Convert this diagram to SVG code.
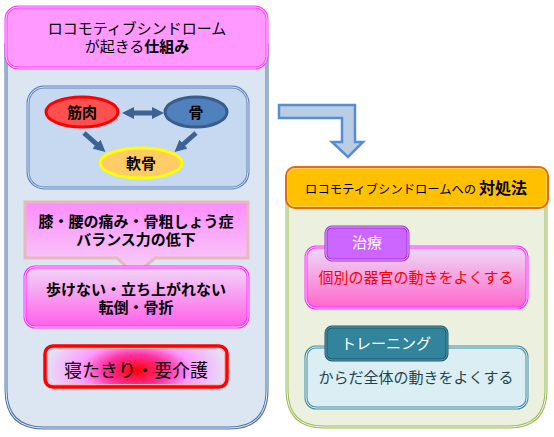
<svg xmlns="http://www.w3.org/2000/svg" width="554" height="437" viewBox="0 0 554 437">
<defs>
<style>
text{font-family:"Noto Sans CJK JP","Noto Sans",sans-serif;text-anchor:middle;fill:#000}
.t15{font-size:15px}
.b{font-weight:bold}
</style>
<linearGradient id="gPink1" x1="0" y1="0" x2="0" y2="1">
<stop offset="0" stop-color="#ff8cff"/><stop offset="1" stop-color="#f5d2f5"/>
</linearGradient>
<linearGradient id="gPink2" x1="0" y1="0" x2="0" y2="1">
<stop offset="0" stop-color="#f2d6f8"/><stop offset="1" stop-color="#ff5eea"/>
</linearGradient>
<linearGradient id="gPink3" x1="0" y1="0" x2="0" y2="1">
<stop offset="0" stop-color="#ecdcf8"/><stop offset="1" stop-color="#ff66cc"/>
</linearGradient>
<radialGradient id="gRed" cx="0.5" cy="0.6" r="0.5" gradientTransform="translate(0.5 0.6) scale(1 2.2) translate(-0.5 -0.6)">
<stop offset="0" stop-color="#ff0000"/><stop offset="0.35" stop-color="#ff30a0"/><stop offset="0.6" stop-color="#ff99ff"/><stop offset="1" stop-color="#e4e0f4"/>
</radialGradient>
<marker id="ah" viewBox="0 0 10 10" refX="5" refY="5" markerWidth="2.4" markerHeight="2.4" orient="auto-start-reverse">
<path d="M0,0 L10,5 L0,10 z" fill="#3d6394"/>
</marker>
</defs>

<!-- left panel -->
<g id="left-panel">
<path d="M6,45 H267 V390 Q267,428 229,428 H44 Q6,428 6,390 Z" fill="#dce6f2" stroke="#4f73a6" stroke-width="3"/>
<path d="M6,45 H267 V390 Q267,428 229,428 H44 Q6,428 6,390 Z" fill="none" stroke="#e8eef6" stroke-width="1"/>
</g>
<g id="left-header">
<rect x="6" y="7" width="261" height="61" rx="12" fill="#ff99ff" stroke="#ff40ff" stroke-width="3"/>
<rect x="6" y="7" width="261" height="61" rx="12" fill="none" stroke="#ffd0ff" stroke-width="1"/>
<text class="t15" x="137" y="34">ロコモティブシンドローム</text>
<text class="t15" x="137" y="52">が起きる<tspan class="b">仕組み</tspan></text>
</g>
<g id="inner-box">
<rect x="28" y="87" width="220" height="101" rx="16" fill="#c6d9f1" stroke="#5a82bd" stroke-width="3"/>
<rect x="28" y="87" width="220" height="101" rx="16" fill="none" stroke="#dce6f2" stroke-width="1"/>
</g>
<g id="connectors">
<line x1="128" y1="113" x2="158" y2="113" stroke="#3d6394" stroke-width="5" marker-start="url(#ah)" marker-end="url(#ah)"/>
<line x1="84" y1="133" x2="101" y2="148" stroke="#3d6394" stroke-width="5" marker-end="url(#ah)"/>
<line x1="196" y1="133" x2="179" y2="148" stroke="#3d6394" stroke-width="5" marker-end="url(#ah)"/>
</g>
<g id="node-muscle">
<ellipse cx="82" cy="112" rx="36" ry="15" fill="#ff5050" stroke="#ff0000" stroke-width="3"/>
<text class="t15 b" x="82" y="118">筋肉</text>
</g>
<g id="node-bone">
<ellipse cx="196" cy="112" rx="31" ry="15" fill="#4f81bd" stroke="#385d8a" stroke-width="3"/>
<text class="t15 b" x="196" y="118">骨</text>
</g>
<g id="node-cartilage">
<ellipse cx="141" cy="163" rx="41" ry="15" fill="#ffcc66" stroke="#ffff00" stroke-width="3"/>
<text class="t15 b" x="141" y="169">軟骨</text>
</g>
<g id="callout">
<path d="M25,202 H248 V258 H155 L135,275 L117,258 H25 Z" fill="url(#gPink1)" stroke="#e8b8bc" stroke-width="3"/>
<text class="t15 b" x="136" y="227">膝・腰の痛み・骨粗しょう症</text>
<text class="t15 b" x="136" y="245">バランス力の低下</text>
</g>
<g id="node-walk">
<rect x="25" y="267" width="223" height="60" rx="10" fill="url(#gPink2)" stroke="#ff33ff" stroke-width="3"/>
<rect x="25" y="267" width="223" height="60" rx="10" fill="none" stroke="#ffd0ff" stroke-width="1"/>
<text class="t15 b" x="136" y="295">歩けない・立ち上がれない</text>
<text class="t15 b" x="136" y="313">転倒・骨折</text>
</g>
<g id="node-bedridden">
<rect x="45" y="346" width="182" height="41" rx="8" fill="url(#gRed)" stroke="#ff0000" stroke-width="3.5"/>
<rect x="47.5" y="348.5" width="177" height="36" rx="6" fill="none" stroke="#ffb0b0" stroke-width="1"/>
<text x="136" y="377" style="font-size:18px">寝たきり・要介護</text>
</g>

<!-- bent arrow -->
<g id="bent-arrow">
<path d="M279,105 H355 V142 H363 L348,157 L332,142 H342 V118 H279 Z" fill="#b9cde5" stroke="#558ed5" stroke-width="2.5"/>
</g>

<!-- right panel -->
<g id="right-panel">
<path d="M287,195 H546 V390 Q546,427 509,427 H324 Q287,427 287,390 Z" fill="#ebf1de" stroke="#9bbb59" stroke-width="3"/>
<path d="M287,195 H546 V390 Q546,427 509,427 H324 Q287,427 287,390 Z" fill="none" stroke="#f4f8ea" stroke-width="1"/>
</g>
<g id="right-header">
<rect x="286" y="167" width="262" height="41" rx="9" fill="#ffc000" stroke="#e46c0a" stroke-width="2"/>
<rect x="287.5" y="168.5" width="259" height="38" rx="8" fill="none" stroke="#ffd060" stroke-width="1"/>
<text x="416" y="194" style="font-size:12.3px">ロコモティブシンドロームへの <tspan class="b" style="font-size:16px">対処法</tspan></text>
</g>
<g id="node-treatment">
<rect x="306" y="247" width="221" height="61" rx="10" fill="url(#gPink3)" stroke="#ff33ff" stroke-width="3"/>
<rect x="306" y="247" width="221" height="61" rx="10" fill="none" stroke="#ffd0ff" stroke-width="1"/>
<text class="t15" x="416" y="283" style="fill:#ff0000">個別の器官の動きをよくする</text>
<rect x="326" y="227" width="82" height="33" rx="6" fill="#cc66ff" stroke="#a530d8" stroke-width="3"/>
<rect x="326" y="227" width="82" height="33" rx="6" fill="none" stroke="#e8b0ff" stroke-width="1"/>
<text class="t15" x="367" y="248" style="fill:#ffffff">治療</text>
</g>
<g id="node-training">
<rect x="306" y="347" width="221" height="61" rx="10" fill="#dbeef4" stroke="#3f8ca6" stroke-width="3"/>
<rect x="306" y="347" width="221" height="61" rx="10" fill="none" stroke="#e8f5f8" stroke-width="1"/>
<text class="t15" x="416" y="383" style="fill:#1f4552">からだ全体の動きをよくする</text>
<rect x="326" y="327" width="121" height="33" rx="6" fill="#31849b" stroke="#215968" stroke-width="3"/>
<rect x="326" y="327" width="121" height="33" rx="6" fill="none" stroke="#5aa0b4" stroke-width="1"/>
<text class="t15" x="386" y="349" style="fill:#ffffff">トレーニング</text>
</g>
</svg>
